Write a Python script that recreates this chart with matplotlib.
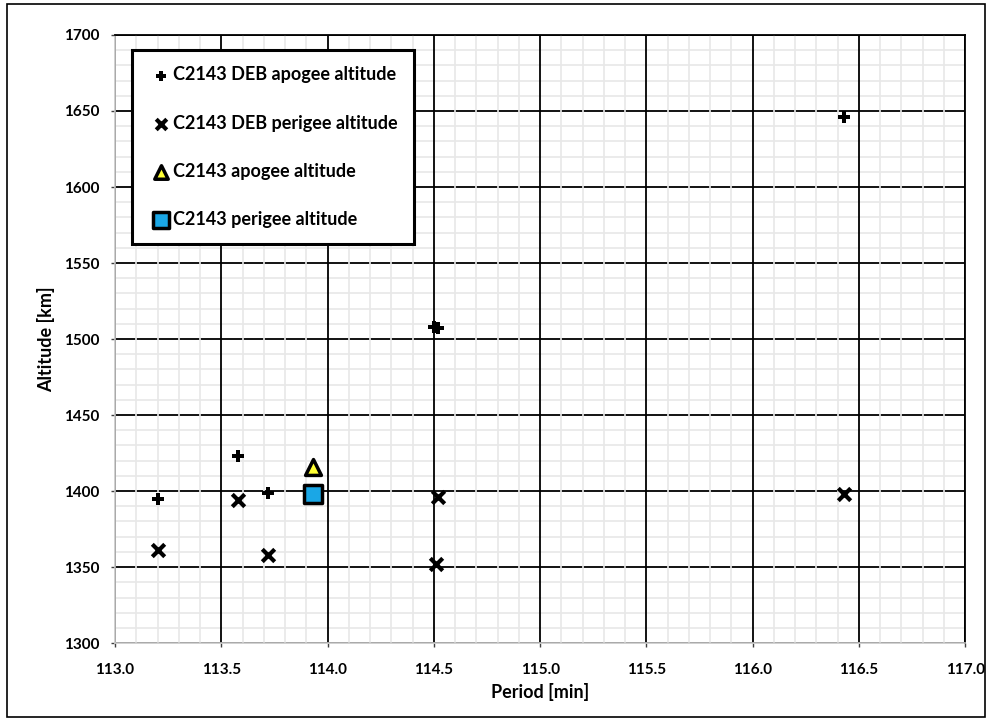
import matplotlib
matplotlib.use("Agg")
import matplotlib.pyplot as plt
from matplotlib.ticker import MultipleLocator, FormatStrFormatter
from matplotlib.patches import Rectangle

# Data
deb_apogee_period = [113.20, 113.58, 113.72, 114.50, 114.52, 116.43]
deb_apogee_alt = [1395, 1423, 1399, 1508, 1507, 1646]
deb_perigee_period = [113.20, 113.58, 113.72, 114.52, 114.51, 116.43]
deb_perigee_alt = [1361, 1394, 1358, 1396, 1352, 1398]
c_apogee_period = [113.93]
c_apogee_alt = [1416]
c_perigee_period = [113.93]
c_perigee_alt = [1398]

plt.rcParams['font.family'] = ['Lato', 'DejaVu Sans']
plt.rcParams['font.weight'] = 'bold'

fig = plt.figure(figsize=(9.92, 7.21), dpi=100)
ax = fig.add_axes([0.116, 0.108, 0.857, 0.8435])

ax.scatter(deb_apogee_period, deb_apogee_alt, marker='P', s=70, color='black',
           linewidths=0, zorder=5, label='C2143 DEB apogee altitude')
ax.scatter(deb_perigee_period, deb_perigee_alt, marker='x', s=80, color='black',
           linewidths=3, zorder=5, label='C2143 DEB perigee altitude')
ax.scatter(c_apogee_period, c_apogee_alt, marker='^', s=130, facecolor='#FFFF33',
           edgecolor='black', linewidths=2.5, zorder=5, label='C2143 apogee altitude')
ax.scatter(c_perigee_period, c_perigee_alt, marker='s', s=170, facecolor='#1AA7E6',
           edgecolor='black', linewidths=2.5, zorder=5, label='C2143 perigee altitude')

ax.set_xlim(113.0, 117.0)
ax.set_ylim(1300, 1700)
ax.xaxis.set_major_locator(MultipleLocator(0.5))
ax.xaxis.set_minor_locator(MultipleLocator(0.1))
ax.yaxis.set_major_locator(MultipleLocator(50))
ax.yaxis.set_minor_locator(MultipleLocator(10))
ax.xaxis.set_major_formatter(FormatStrFormatter('%.1f'))

ax.set_axisbelow(True)
ax.yaxis.set_zorder(0.4)
ax.xaxis.set_zorder(0.5)
ax.grid(which='minor', color='#E8E8E8', linewidth=1.2)
ax.grid(which='major', color='black', linewidth=1.3)
ax.tick_params(which='minor', length=0)
ax.tick_params(which='major', length=3, width=1, color='#404040', labelsize=11)
ax.tick_params(axis='x', which='major', pad=11.5)
ax.tick_params(axis='y', which='major', pad=8.5)
for lab in ax.get_xticklabels() + ax.get_yticklabels():
    lab.set_fontweight('bold')

for s in ['left', 'bottom']:
    ax.spines[s].set_color('#C8C8C8')
    ax.spines[s].set_linewidth(1.2)
for s in ['top', 'right']:
    ax.spines[s].set_color('black')
    ax.spines[s].set_linewidth(1.3)

ax.set_xlabel('Period [min]', fontsize=13, fontweight='bold', labelpad=4)
ax.set_ylabel('Altitude [km]', fontsize=13, fontweight='bold', labelpad=6)

leg = ax.legend(loc='upper left', bbox_to_anchor=(0.02, 0.975), frameon=True,
                fancybox=False, fontsize=13, labelspacing=1.73, handletextpad=0.0,
                handlelength=1.37, borderpad=0.9, borderaxespad=0, markerscale=0.85,
                scatterpoints=1)
leg.get_frame().set_edgecolor('black')
leg.get_frame().set_linewidth(2.2)
leg.get_frame().set_alpha(1)
for t in leg.get_texts():
    t.set_fontweight('bold')
leg.set_zorder(10)

fig.patches.append(Rectangle((0.007, 0.006), 0.986, 0.988, transform=fig.transFigure,
                             fill=False, edgecolor='black', linewidth=1.2))

fig.savefig('out.png', dpi=100)
